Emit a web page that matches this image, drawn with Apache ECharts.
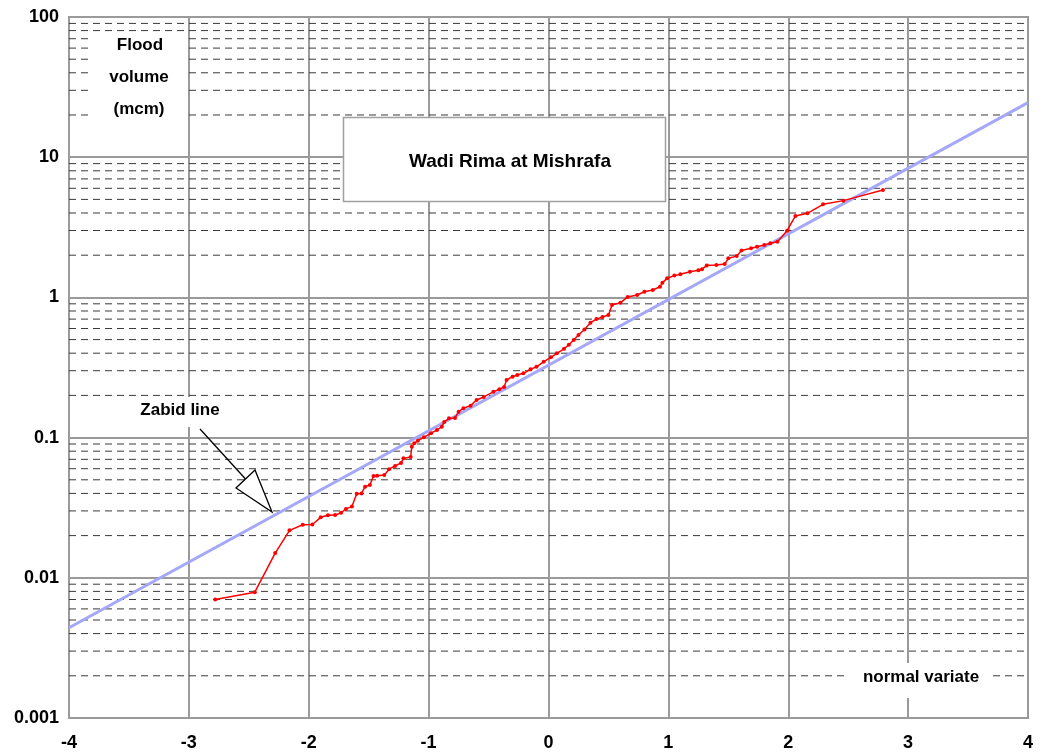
<!DOCTYPE html>
<html>
<head>
<meta charset="utf-8">
<script src="https://cdn.jsdelivr.net/npm/echarts@6/dist/echarts.min.js"></script>
<style>
  html, body { margin: 0; padding: 0; background: #fff; }
  #chart { width: 1046px; height: 753px; }
</style>
</head>
<body>
<div id="chart"></div>
<script>
  // observed flood volumes (mcm) against normal variate
  const obsVariate = [
    -2.78, -2.45, -2.28, -2.16, -2.05, -1.97, -1.90, -1.84, -1.78, -1.73,
    -1.69, -1.64, -1.60, -1.56, -1.53, -1.49, -1.46, -1.43, -1.37, -1.33,
    -1.28, -1.23, -1.21, -1.15, -1.14, -1.12, -1.09, -1.04, -0.98, -0.93,
    -0.89, -0.87, -0.83, -0.78, -0.75, -0.71, -0.65, -0.60, -0.54, -0.46,
    -0.41, -0.37, -0.35, -0.30, -0.26, -0.21, -0.15, -0.10, -0.04, 0.02,
    0.07, 0.13, 0.17, 0.21, 0.25, 0.30, 0.35, 0.40, 0.45, 0.50,
    0.53, 0.60, 0.66, 0.74, 0.80, 0.87, 0.93, 0.95, 0.99, 1.05,
    1.10, 1.18, 1.25, 1.28, 1.32, 1.40, 1.47, 1.50, 1.57, 1.61,
    1.69, 1.74, 1.80, 1.85, 1.91, 1.99, 2.06, 2.16, 2.29, 2.46,
    2.79
  ];
  const obsVolume = [
    0.0070, 0.0079, 0.0150, 0.0218, 0.0239, 0.0240, 0.0270, 0.0279, 0.0280, 0.0291,
    0.0310, 0.0322, 0.0398, 0.0400, 0.0447, 0.0459, 0.0532, 0.0535, 0.0540, 0.0595,
    0.0627, 0.0660, 0.0711, 0.0726, 0.0861, 0.0910, 0.0950, 0.1005, 0.1075, 0.1133,
    0.1196, 0.1290, 0.1373, 0.1380, 0.1530, 0.1618, 0.1690, 0.1855, 0.1950, 0.2120,
    0.2211, 0.2300, 0.2575, 0.2720, 0.2796, 0.2875, 0.3069, 0.3200, 0.3480, 0.3740,
    0.3990, 0.4300, 0.4600, 0.4970, 0.5395, 0.5900, 0.6600, 0.7000, 0.7250, 0.7490,
    0.8830, 0.9170, 1.0050, 1.0400, 1.0980, 1.1300, 1.1900, 1.2740, 1.3680, 1.4300,
    1.4610, 1.5250, 1.5600, 1.5860, 1.6900, 1.7050, 1.7300, 1.9000, 1.9700, 2.1600,
    2.2400, 2.3000, 2.3640, 2.4300, 2.4960, 2.9900, 3.8100, 3.9800, 4.6100, 4.9000,
    5.8300
  ];

  // Zabid regional line (end points)
  const zabidVariate = [-4, 4];
  const zabidVolume = [0.0044, 24.5];

  // axis ticks
  const decadeTicks = [0.001, 0.01, 0.1, 1, 10, 100];
  const decadeLabels = ['0.001', '0.01', '0.1', '1', '10', '100'];
  const minorMultipliers = [2, 3, 4, 5, 6, 7, 8, 9];

  const minorValues = [];
  decadeTicks.slice(0, -1).forEach(d => {
    minorMultipliers.forEach(m => minorValues.push(+(d * m).toPrecision(3)));
  });

  const font = '"Liberation Sans", Arial, sans-serif';
  const gridColor = '#9a9a9a';

  const chart = echarts.init(document.getElementById('chart'), null, { renderer: 'canvas' });

  const labelBox = (x, y, w, h) => ({
    type: 'rect', z: 100, silent: true,
    shape: { x: x, y: y, width: w, height: h },
    style: { fill: '#fff' }
  });
  const boldText = (txt, x, y, size) => ({
    type: 'text', z: 101, silent: true, x: x, y: y,
    style: { text: txt, fill: '#000', font: 'bold ' + size + 'px ' + font, align: 'center', verticalAlign: 'middle' }
  });

  // dashed minor grid lines, one short series each, spanning the x range
  const minorSeries = minorValues.map(v => ({
    type: 'line', z: 1, silent: true, showSymbol: false,
    lineStyle: { type: [7, 5], color: '#3a3a3a', width: 1 },
    emphasis: { disabled: true },
    data: [[-4, v], [4, v]]
  }));

  chart.setOption({
    animation: false,
    textStyle: { fontFamily: font },
    grid: {
      left: 69, right: 18, top: 17, bottom: 35,
      show: true, borderColor: gridColor, borderWidth: 2, backgroundColor: '#fff'
    },
    xAxis: {
      type: 'value', min: -4, max: 4, interval: 1,
      axisLine: { show: false },
      axisTick: { show: false },
      axisLabel: { color: '#000', fontWeight: 'bold', fontSize: 18, margin: 16, fontFamily: font },
      splitLine: { show: true, lineStyle: { color: gridColor, width: 2 } }
    },
    yAxis: {
      type: 'log', logBase: 10, min: 0.001, max: 100,
      axisLine: { show: false },
      axisTick: { show: false },
      axisLabel: {
        color: '#000', fontWeight: 'bold', fontSize: 18, margin: 10, fontFamily: font,
        formatter: v => {
          const i = decadeTicks.findIndex(t => Math.abs(Math.log10(t) - Math.log10(v)) < 1e-6);
          return i >= 0 ? decadeLabels[i] : '';
        }
      },
      splitLine: { show: true, lineStyle: { color: gridColor, width: 2 } }
    },
    series: minorSeries.concat([
      {
        name: 'Zabid line', type: 'line', z: 3, showSymbol: false, silent: true,
        lineStyle: { color: '#a4a8f6', width: 3 },
        data: zabidVariate.map((x, i) => [x, zabidVolume[i]])
      },
      {
        name: 'Wadi Rima at Mishrafa', type: 'line', z: 4, silent: true,
        symbol: 'circle', symbolSize: 4,
        itemStyle: { color: '#ff0000' },
        lineStyle: { color: '#ff0000', width: 1.5 },
        data: obsVariate.map((x, i) => [x, obsVolume[i]])
      }
    ]),
    graphic: [
      labelBox(93, 35, 93, 112),
      boldText('Flood', 140, 45, 17),
      boldText('volume', 139, 77, 17),
      boldText('(mcm)', 139, 109, 17),
      {
        type: 'rect', z: 100, silent: true,
        shape: { x: 343.5, y: 117.5, width: 322, height: 84 },
        style: { fill: '#fff', stroke: '#a0a0a0', lineWidth: 1.5 }
      },
      boldText('Wadi Rima at Mishrafa', 510, 162, 19),
      labelBox(104, 397, 153, 30),
      boldText('Zabid line', 180, 410, 17),
      labelBox(847, 663, 145, 35),
      boldText('normal variate', 921, 677, 17),
      {
        type: 'line', z: 102, silent: true,
        shape: { x1: 200, y1: 429, x2: 245.5, y2: 479 },
        style: { stroke: '#000', lineWidth: 1.3 }
      },
      {
        type: 'polygon', z: 102, silent: true,
        shape: { points: [[255, 470], [236, 488], [272, 512]] },
        style: { fill: '#fff', stroke: '#000', lineWidth: 1.3 }
      }
    ]
  });

  window.addEventListener('resize', () => chart.resize());
</script>
</body>
</html>
